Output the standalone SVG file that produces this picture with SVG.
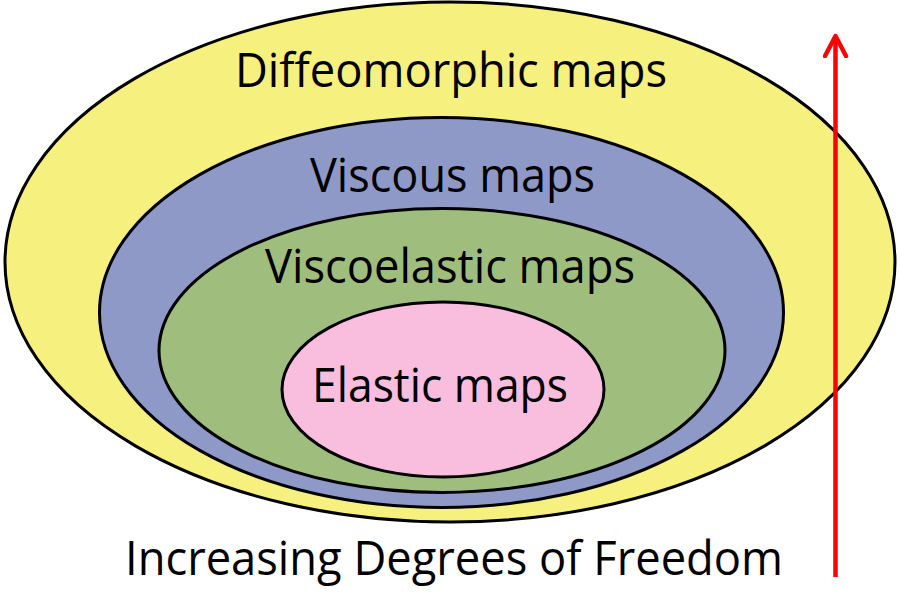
<svg xmlns="http://www.w3.org/2000/svg" width="900" height="593" viewBox="0 0 900 593">
<style>
.ring{stroke:#000;stroke-width:3}
.lbl{font-family:"Open Sans","Liberation Sans",sans-serif;font-size:47px;fill:#000;text-anchor:start}
</style>
<defs>
<marker id="head" viewBox="0 0 26 26" refX="22" refY="13" markerWidth="26" markerHeight="26" markerUnits="userSpaceOnUse" orient="auto">
<path d="M2,2.5 L22,13 L2,23.5" fill="none" stroke="#ff0000" stroke-width="4.5" stroke-linecap="round" stroke-linejoin="round"/>
</marker>
</defs>
<rect width="900" height="593" fill="#fff"/>
<g id="diffeomorphic">
<ellipse class="ring" cx="450" cy="262" rx="445" ry="260" fill="#f6f07e"/>
<text class="lbl" x="235" y="87" textLength="432" lengthAdjust="spacingAndGlyphs">Diffeomorphic maps</text>
</g>
<g id="viscous">
<ellipse class="ring" cx="441.5" cy="312.5" rx="342" ry="195" fill="#8e99c8"/>
<text class="lbl" x="310" y="192" textLength="285" lengthAdjust="spacingAndGlyphs">Viscous maps</text>
</g>
<g id="viscoelastic">
<ellipse class="ring" cx="442" cy="350.5" rx="283" ry="142" fill="#9fbe7d"/>
<text class="lbl" x="265" y="283" textLength="370" lengthAdjust="spacingAndGlyphs">Viscoelastic maps</text>
</g>
<g id="elastic">
<ellipse class="ring" cx="443" cy="389.5" rx="161" ry="87.5" fill="#f9bddd"/>
<text class="lbl" x="312" y="402" textLength="256" lengthAdjust="spacingAndGlyphs">Elastic maps</text>
</g>
<g id="caption">
<text class="lbl" x="125" y="575" textLength="658" lengthAdjust="spacingAndGlyphs">Increasing Degrees of Freedom</text>
</g>
<g id="connectors">
<line x1="835.5" y1="577" x2="835.5" y2="36" stroke="#ff0000" stroke-width="4.5" marker-end="url(#head)"/>
</g>
</svg>
